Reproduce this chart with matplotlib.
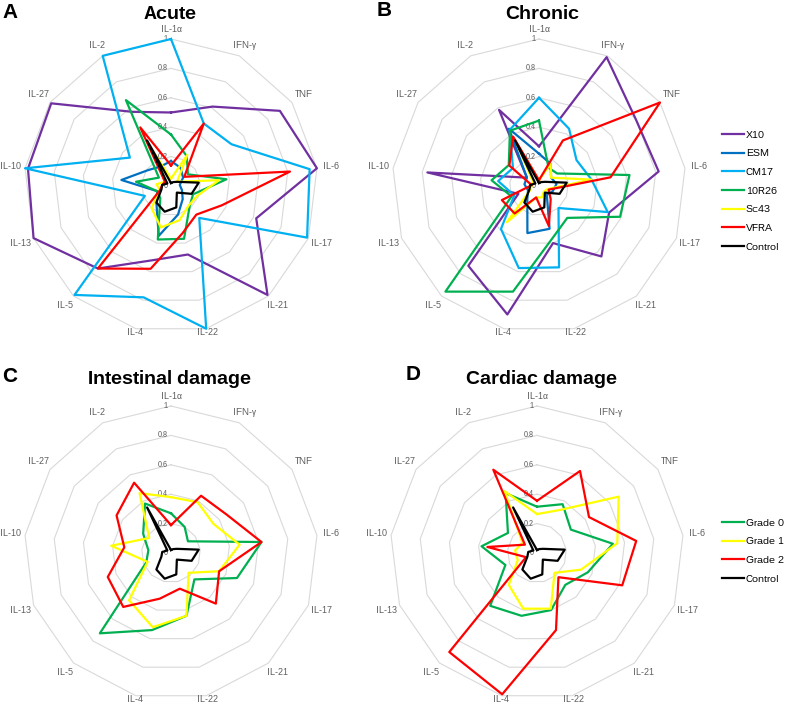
import numpy as np
import matplotlib
matplotlib.use("Agg")
import matplotlib.pyplot as plt

plt.rcParams["font.family"] = ["Liberation Sans", "DejaVu Sans"]
plt.rcParams["text.hinting"] = "native"
plt.rcParams["text.hinting_factor"] = 1

CYTOKINES = ["IL-1α", "IFN-γ", "TNF", "IL-6", "IL-17", "IL-21", "IL-22",
             "IL-4", "IL-5", "IL-13", "IL-10", "IL-27", "IL-2"]
LEVELS = [0.2, 0.4, 0.6, 0.8, 1.0]

CONTROL = [0.02, 0.03, 0.05, 0.19, 0.15, 0.06, 0.15, 0.18, 0.15, 0.07, 0.06, 0.03, 0.35]

# Acute
ACUTE_X10 = [0.50, 0.61, 0.90, 1.00, 0.62, 0.99, 0.48, 0.52, 0.75, 1.00, 0.98, 0.99, 0.57]
ACUTE_ESM = [0.17, 0.14, 0.10, 0.06, 0.08, 0.12, 0.20, 0.35, 0.15, 0.10, 0.34, 0.19, 0.15]
ACUTE_CM17 = [1.00, 0.48, 0.50, 0.95, 0.99, 0.29, 1.00, 0.78, 0.99, 0.19, 1.00, 0.34, 1.00]
ACUTE_10R26 = [0.35, 0.23, 0.14, 0.38, 0.16, 0.19, 0.37, 0.375, 0.11, 0.10, 0.24, 0.10, 0.66]
ACUTE_SC43 = [0.05, 0.24, 0.05, 0.33, 0.19, 0.18, 0.24, 0.29, 0.20, 0.08, 0.10, 0.05, 0.28]
ACUTE_VFRA = [0.14, 0.48, 0.11, 0.815, 0.37, 0.26, 0.33, 0.58, 0.75, 0.08, 0.06, 0.05, 0.45]

# Chronic
CHRONIC_X10 = [0.27, 0.99, 0.80, 0.82, 0.51, 0.64, 0.40, 0.90, 0.725, 0.15, 0.765, 0.10, 0.585]
CHRONIC_ESM = [0.22, 0.17, 0.10, 0.12, 0.10, 0.08, 0.30, 0.33, 0.12, 0.08, 0.10, 0.10, 0.44]
CHRONIC_CM17 = [0.60, 0.44, 0.31, 0.36, 0.50, 0.20, 0.57, 0.575, 0.39, 0.18, 0.28, 0.215, 0.43]
CHRONIC_10R26 = [0.445, 0.14, 0.15, 0.62, 0.59, 0.29, 0.37, 0.74, 0.96, 0.20, 0.325, 0.25, 0.425]
CHRONIC_SC43 = [0.04, 0.17, 0.10, 0.36, 0.06, 0.05, 0.08, 0.08, 0.33, 0.06, 0.05, 0.05, 0.32]
CHRONIC_VFRA = [0.04, 0.35, 1.00, 0.49, 0.07, 0.12, 0.28, 0.08, 0.25, 0.27, 0.05, 0.245, 0.38]

# Intestinal damage
INTEST_G0 = [0.27, 0.20, 0.14, 0.62, 0.48, 0.24, 0.44, 0.54, 0.73, 0.18, 0.155, 0.23, 0.38]
INTEST_G1 = [0.38, 0.39, 0.35, 0.47, 0.35, 0.18, 0.44, 0.52, 0.43, 0.17, 0.41, 0.18, 0.46]
INTEST_G2 = [0.19, 0.44, 0.46, 0.62, 0.35, 0.46, 0.25, 0.32, 0.49, 0.46, 0.32, 0.45, 0.54]

# Cardiac damage
CARDIAC_G0 = [0.315, 0.375, 0.28, 0.52, 0.37, 0.29, 0.40, 0.44, 0.48, 0.23, 0.38, 0.24, 0.46]
CARDIAC_G1 = [0.265, 0.33, 0.675, 0.55, 0.32, 0.18, 0.39, 0.39, 0.29, 0.14, 0.15, 0.12, 0.475]
CARDIAC_G2 = [0.355, 0.63, 0.43, 0.68, 0.62, 0.22, 0.54, 0.99, 0.90, 0.08, 0.34, 0.10, 0.64]

PURPLE, DBLUE, CYAN = "#7030A0", "#0070C0", "#00B0F0"
GREEN, YELLOW, RED = "#00B050", "#FFFF00", "#FF0000"

W, H = 787, 705
ANGLES = np.arange(len(CYTOKINES)) * 2 * np.pi / len(CYTOKINES)
R_PX = 147


def radar(fig, cx, cy, series):
    ax = fig.add_axes([(cx - R_PX) / W, 1 - (cy + R_PX) / H,
                       2 * R_PX / W, 2 * R_PX / H], projection="polar")
    ax.set_theta_zero_location("N")
    ax.set_theta_direction(-1)
    ax.set_ylim(0, 1)
    ax.set_xticks([])
    ax.set_yticks([])
    ax.grid(False)
    ax.spines["polar"].set_visible(False)
    closed = np.append(ANGLES, ANGLES[0])
    for lvl in LEVELS:
        ax.plot(closed, np.full(len(closed), lvl), color="#d9d9d9", lw=0.8,
                zorder=1, clip_on=False)
    for lvl in [0] + LEVELS:
        ax.annotate(f"{lvl:g}", (0, lvl), xytext=(-2.5, 0),
                    textcoords="offset points", ha="right", va="center",
                    fontsize=5.5, color="#595959", zorder=2)
    for ang, lab in zip(ANGLES, CYTOKINES):
        r = 1.065 + 0.035 * abs(np.sin(ang)) - 0.045 * (np.cos(ang) < -0.9)
        ax.text(ang, r, lab, ha="center", va="center", fontsize=6.5,
                color="#595959")
    lines = []
    for i, (name, vals, color) in enumerate(series):
        ln, = ax.plot(closed, np.append(vals, vals[0]), color=color, lw=1.6,
                      label=name, zorder=3 + i, clip_on=False)
        lines.append(ln)
    return lines


fig = plt.figure(figsize=(W / 100, H / 100), dpi=100)

h_top = radar(fig, 171, 186, [
    ("X10", ACUTE_X10, PURPLE), ("ESM", ACUTE_ESM, DBLUE),
    ("CM17", ACUTE_CM17, CYAN), ("10R26", ACUTE_10R26, GREEN),
    ("Sc43", ACUTE_SC43, YELLOW), ("VFRA", ACUTE_VFRA, RED),
    ("Control", CONTROL, "black")])
radar(fig, 539, 186, [
    ("X10", CHRONIC_X10, PURPLE), ("ESM", CHRONIC_ESM, DBLUE),
    ("CM17", CHRONIC_CM17, CYAN), ("10R26", CHRONIC_10R26, GREEN),
    ("Sc43", CHRONIC_SC43, YELLOW), ("VFRA", CHRONIC_VFRA, RED),
    ("Control", CONTROL, "black")])
h_bot = radar(fig, 171, 553, [
    ("Grade 0", INTEST_G0, GREEN), ("Grade 1", INTEST_G1, YELLOW),
    ("Grade 2", INTEST_G2, RED), ("Control", CONTROL, "black")])
radar(fig, 537, 553, [
    ("Grade 0", CARDIAC_G0, GREEN), ("Grade 1", CARDIAC_G1, YELLOW),
    ("Grade 2", CARDIAC_G2, RED), ("Control", CONTROL, "black")])

# titles and panel letters (pixel positions converted to figure fraction)
for x, y, txt in [(170, 14, "Acute"), (542, 14, "Chronic"),
                  (169, 379, "Intestinal damage"), (542, 379, "Cardiac damage")]:
    fig.text(x / W, 1 - y / H, txt, ha="center", va="center",
             fontsize=14, fontweight="bold")
for x, y, txt in [(2, 12, "A"), (377, 11, "B"), (2, 377, "C"), (406, 374, "D")]:
    fig.text(x / W, 1 - y / H, txt, ha="left", va="center",
             fontsize=15, fontweight="bold")

leg_kw = dict(frameon=False, fontsize=7.5, handlelength=2.1, handletextpad=0.2,
              labelspacing=0.9, borderpad=0, borderaxespad=0, loc="upper left")
fig.legend(handles=h_top, bbox_to_anchor=(722 / W, 1 - 130.5 / H), **leg_kw)
fig.legend(handles=h_bot, bbox_to_anchor=(722 / W, 1 - 518.5 / H), **leg_kw)

fig.savefig("out.png", dpi=100)
